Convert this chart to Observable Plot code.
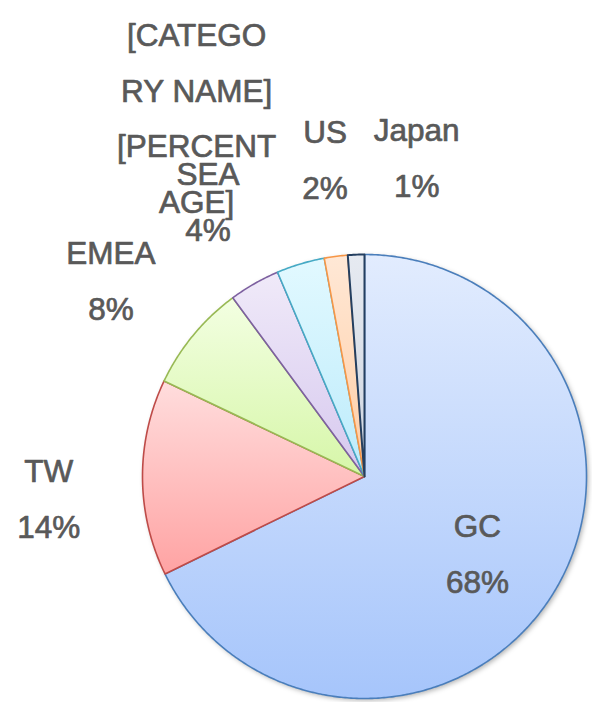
<!DOCTYPE html>
<html><head><meta charset="utf-8">
<script src="https://cdn.jsdelivr.net/npm/d3@7"></script>
<script src="https://cdn.jsdelivr.net/npm/@observablehq/plot@0.6"></script>
<style>body{margin:0;background:#fff}</style>
</head><body><div id="chart"></div>
<script>
// Data
const categories = ["GC", "TW", "EMEA", "SEA", "[CATEGORY NAME]", "US", "Japan"];
const values = [67.7, 14.3, 7.8, 3.7, 3.5, 1.7, 1.2];
const labelTexts = ["GC\n68%", "TW\n14%", "EMEA\n8%", "SEA\n4%", "[CATEGO\nRY NAME]\n[PERCENT\nAGE]", "US\n2%", "Japan\n1%"];

// Styles
const gradTop = ["#e2ecfe", "#ffdddd", "#f3ffe2", "#f0eaf9", "#e2f9ff", "#ffe8d6", "#e6eaf1"];
const gradBottom = ["#a6c5fb", "#ffa3a3", "#d6f6a8", "#d6c8ee", "#bcebfb", "#ffcda4", "#cfd5df"];
const strokes = ["#4a7ebb", "#be4b48", "#98b954", "#7d60a0", "#46aac5", "#f79646", "#243f60"];

// Layout
const W = 592, H = 702, CX = 364, CY = 476, R = 222;
const FS = 31.5, LH = 1.77, FONT = "Liberation Sans, Arial, sans-serif";
const RA = 1.28;   // outside label anchor radius (in pie radii)
const GAP = 26;    // px gap when resolving label collisions
const DROP = 14;   // px downward offset of outside label boxes

const total = d3.sum(values);
let acc = 0;
const slices = values.map((v, i) => {
  const a0 = acc / total * 2 * Math.PI;
  acc += v;
  const a1 = acc / total * 2 * Math.PI;
  return {i, key: categories[i], a0, a1, mid: (a0 + a1) / 2};
});

function slicePoints(s, r = 1) {
  const pts = [{x: 0, y: 0}];
  const n = Math.max(4, Math.ceil((s.a1 - s.a0) / (Math.PI / 360)));
  for (let k = 0; k <= n; k++) {
    const a = s.a0 + (s.a1 - s.a0) * k / n;
    pts.push({x: r * Math.sin(a), y: r * Math.cos(a)});
  }
  pts.push({x: 0, y: 0});
  return pts;
}

// measure label boxes (px)
const ctx = document.createElement("canvas").getContext("2d");
ctx.font = `${FS}px ${FONT}`;
const maxI = d3.maxIndex(values);
const labels = slices.map(s => {
  const ls = labelTexts[s.i].split("\n");
  const w = d3.max(ls, l => ctx.measureText(l).width);
  const h = ls.length * LH * FS;
  const ux = Math.sin(s.mid), uy = Math.cos(s.mid);
  let x, y;
  if (s.i === maxI) {
    x = 0.6 * ux; y = 0.6 * uy;
  } else {
    // box touches anchor point on its near side
    x = RA * ux + ux * w / 2 / R;
    y = RA * uy + uy * h / 2 / R - DROP / R;
  }
  return {i: s.i, text: labelTexts[s.i], x, y, w, h, lines: ls.length};
});
// resolve collisions between neighbouring outside labels (horizontal shifts)
for (let k = labels.length - 1; k > 0; k--) {
  const a = labels[k - 1], b = labels[k];
  if (a.i === maxI || b.i === maxI) continue;
  const dy = Math.abs(a.y - b.y) * R;
  if (dy >= (a.h + b.h) / 4) continue;
  const need = ((a.w + b.w) / 2 + GAP) / R;
  if (Math.abs(a.x - b.x) >= need) continue;
  if (a.lines > b.lines) a.x = b.x - need; else b.x = a.x + need;
}

const marks = [];
marks.push(Plot.line(slicePoints({a0: 0, a1: 2 * Math.PI}), {x: "x", y: "y", fill: "#ffffff", stroke: "none"}));
slices.forEach(s => {
  marks.push(Plot.line(slicePoints(s), {
    x: "x", y: "y",
    fill: `url(#grad${s.i})`,
    stroke: strokes[s.i],
    strokeWidth: s.i === slices.length - 1 ? 2 : 1.6,
    strokeLinejoin: "round"
  }));
});
marks.push(Plot.text(labels, {
  x: "x", y: "y", text: "text",
  fontSize: FS, lineHeight: LH, fill: "#595959",
  stroke: "#595959", strokeWidth: 0.7, paintOrder: "stroke",
  fontFamily: FONT,
  textAnchor: "middle", lineAnchor: "middle"
}));

const svg = Plot.plot({
  width: W, height: H, margin: 0,
  style: {background: "#fff", overflow: "visible"},
  x: {domain: [-CX / R, (W - CX) / R], axis: null},
  y: {domain: [-(H - CY) / R, CY / R], axis: null},
  marks
});

const ns = "http://www.w3.org/2000/svg";
const defs = document.createElementNS(ns, "defs");
slices.forEach(s => {
  const g = document.createElementNS(ns, "linearGradient");
  g.setAttribute("id", `grad${s.i}`);
  g.setAttribute("x1", "0"); g.setAttribute("y1", "0");
  g.setAttribute("x2", "0"); g.setAttribute("y2", "1");
  [[0, gradTop[s.i]], [1, gradBottom[s.i]]].forEach(([o, c]) => {
    const st = document.createElementNS(ns, "stop");
    st.setAttribute("offset", o);
    st.setAttribute("stop-color", c);
    g.appendChild(st);
  });
  defs.appendChild(g);
});
const f = document.createElementNS(ns, "filter");
f.setAttribute("id", "shadow");
f.setAttribute("x", "-10%"); f.setAttribute("y", "-10%");
f.setAttribute("width", "120%"); f.setAttribute("height", "120%");
const ds = document.createElementNS(ns, "feDropShadow");
ds.setAttribute("dx", "2"); ds.setAttribute("dy", "2");
ds.setAttribute("stdDeviation", "2.5");
ds.setAttribute("flood-color", "#000"); ds.setAttribute("flood-opacity", "0.3");
f.appendChild(ds);
defs.appendChild(f);
svg.insertBefore(defs, svg.firstChild);
const bg = svg.querySelector('g[aria-label="line"]');
if (bg) bg.setAttribute("filter", "url(#shadow)");

document.getElementById("chart").appendChild(svg);
</script>
</body></html>
